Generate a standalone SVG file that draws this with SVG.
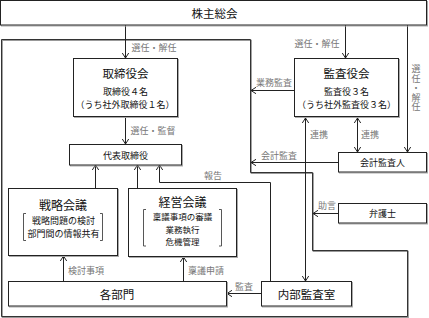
<svg xmlns="http://www.w3.org/2000/svg" width="429" height="318" viewBox="0 0 429 318">
<defs>
<marker id="ah" markerWidth="8" markerHeight="8" refX="6" refY="4" orient="auto-start-reverse" markerUnits="userSpaceOnUse">
<path d="M1,0.8 L6,4 L1,7.2" fill="none" stroke="#222" stroke-width="1"/>
</marker>
<style>
text{font-family:"Noto Sans CJK JP","Noto Sans",sans-serif;fill:#111;text-anchor:middle;dominant-baseline:central}
.box{fill:#fff;stroke:#222;stroke-width:1}
.sh{fill:none;stroke:#aaa;stroke-width:1}
.t{font-size:11.5px}
.s{font-size:9px}
.m{font-size:8.5px}
.lb{font-size:9px;fill:#777}
.c{fill:none;stroke:#222;stroke-width:1}
.a{marker-end:url(#ah)}
.b{marker-start:url(#ah);marker-end:url(#ah)}
.br{fill:none;stroke:#444;stroke-width:0.9}
</style>
</defs>
<rect width="429" height="318" fill="#fff"/>
<g id="boundary">
<path d="M1.5,39.5 H250.5 V172.5 H312.5 V250.5 H407.5 V316.5 H1.5 Z" fill="none" stroke="#999" stroke-width="1.2" transform="translate(0.8,0.8)"/>
<path d="M1.5,39.5 H250.5 V172.5 H312.5 V250.5 H407.5 V316.5 H1.5 Z" fill="none" stroke="#333" stroke-width="1"/>
</g>
<g id="connectors">
<path class="c a" d="M125.5,25 V58"/>
<path class="c a" d="M345.5,25 V58"/>
<path class="c a" d="M407.5,25 V152"/>
<path class="c a" d="M295,90.5 H251"/>
<path class="c a" d="M125.5,117 V144"/>
<path class="c b" d="M305.5,118 V281"/>
<path class="c b" d="M357.5,118 V152"/>
<path class="c a" d="M338,162.5 H251"/>
<path class="c a" d="M338,213.5 H313"/>
<path class="c a" d="M95.5,188 V165"/>
<path class="c a" d="M137.5,188 V165"/>
<path class="c a" d="M270.5,281 V182.5 H159.5 V165"/>
<path class="c a" d="M63.5,281 V256"/>
<path class="c a" d="M183.5,281 V257"/>
<path class="c a" d="M261,293.5 H227"/>
<text class="lb" x="154" y="47">選任・解任</text>
<text class="lb" x="317" y="43">選任・解任</text>
<text class="lb" x="416" y="64.5" style="writing-mode:vertical-rl;text-anchor:start;letter-spacing:0.4px">選任・解任</text>
<text class="lb" x="274" y="82">業務監査</text>
<text class="lb" x="153" y="130">選任・監督</text>
<text class="lb" x="319" y="134">連携</text>
<text class="lb" x="370" y="134">連携</text>
<text class="lb" x="279" y="155">会計監査</text>
<text class="lb" x="213" y="175">報告</text>
<text class="lb" x="327" y="205">助言</text>
<text class="lb" x="86" y="270">検討事項</text>
<text class="lb" x="206" y="270">稟議申請</text>
<text class="lb" x="244" y="286">監査</text>
</g>
<g id="kabunushi">
<rect class="sh" x="1.5" y="1.5" width="426" height="24.5"/>
<rect class="box" x="0.5" y="0.5" width="426" height="24.5"/>
<text class="t" x="214.5" y="13">株主総会</text>
</g>
<g id="torishimariyakukai">
<rect class="sh" x="74.5" y="59.5" width="104" height="58"/>
<rect class="box" x="73.5" y="58.5" width="104" height="58"/>
<text class="t" x="125.5" y="73">取締役会</text>
<text class="s" x="125.5" y="91">取締役４名</text>
<text class="s" x="125" y="104">（うち社外取締役１名）</text>
</g>
<g id="kansayakukai">
<rect class="sh" x="295.5" y="59.5" width="104" height="58"/>
<rect class="box" x="294.5" y="58.5" width="104" height="58"/>
<text class="t" x="346.5" y="73">監査役会</text>
<text class="s" x="346.5" y="91">監査役３名</text>
<text class="s" x="346.5" y="104">（うち社外監査役３名）</text>
</g>
<g id="daihyo">
<rect class="sh" x="70.5" y="145.5" width="112" height="20.5"/>
<rect class="box" x="69.5" y="144.5" width="112" height="20.5"/>
<text class="s" x="125.5" y="155">代表取締役</text>
</g>
<g id="kaikeikansanin">
<rect class="sh" x="339.5" y="153.5" width="88" height="19.5"/>
<rect class="box" x="338.5" y="152.5" width="88" height="19.5"/>
<text class="s" x="382.5" y="162.5">会計監査人</text>
</g>
<g id="bengoshi">
<rect class="sh" x="339.5" y="204.5" width="88" height="19.5"/>
<rect class="box" x="338.5" y="203.5" width="88" height="19.5"/>
<text class="s" x="382.5" y="213.5">弁護士</text>
</g>
<g id="senryakukaigi">
<rect class="sh" x="9.5" y="189.5" width="109" height="67"/>
<rect class="box" x="8.5" y="188.5" width="109" height="67"/>
<text style="font-size:12px" x="63" y="204">戦略会議</text>
<path class="br" d="M26,213.5 H23.5 V240.5 H26"/>
<path class="br" d="M100,213.5 H102.5 V240.5 H100"/>
<text class="s" x="63.5" y="220">戦略問題の検討</text>
<text class="s" x="63.5" y="233">部門間の情報共有</text>
</g>
<g id="keieikaigi">
<rect class="sh" x="129.5" y="189.5" width="108" height="68"/>
<rect class="box" x="128.5" y="188.5" width="108" height="68"/>
<text style="font-size:12px" x="182.5" y="201">経営会議</text>
<path class="br" d="M146,209.5 H143.5 V246 H146"/>
<path class="br" d="M219,209.5 H221.5 V246 H219"/>
<text class="m" x="182.5" y="216">稟議事項の審議</text>
<text class="m" x="182.5" y="228.5">業務執行</text>
<text class="m" x="182.5" y="241">危機管理</text>
</g>
<g id="kakubumon">
<rect class="sh" x="9.5" y="282.5" width="218" height="24.5"/>
<rect class="box" x="8.5" y="281.5" width="218" height="24.5"/>
<text class="t" x="117" y="294">各部門</text>
</g>
<g id="naibukansashitsu">
<rect class="sh" x="262.5" y="282.5" width="90" height="24.5"/>
<rect class="box" x="261.5" y="281.5" width="90" height="24.5"/>
<text class="t" x="306.5" y="294">内部監査室</text>
</g>
</svg>
